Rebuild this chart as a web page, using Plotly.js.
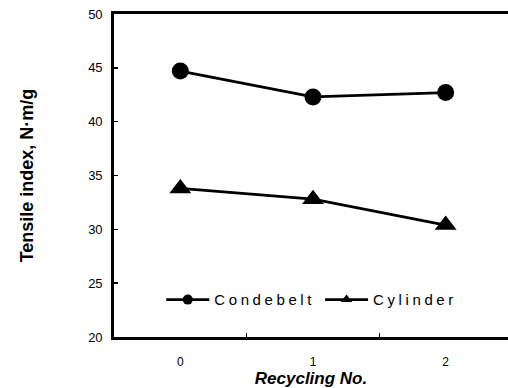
<!DOCTYPE html>
<html><head><meta charset="utf-8">
<script src="https://cdn.plot.ly/plotly-3.0.1.min.js"></script>
<style>body{margin:0;background:#fff}#c{width:508px;height:388px}.legendtext{letter-spacing:3.6px}</style>
</head><body><div id="c"></div>
<script>
var recycling = [0, 1, 2];
var xTickLabels = ['0', '1', '2'];
var yTickValues = [20, 25, 30, 35, 40, 45, 50];
var condebelt = [44.7, 42.3, 42.7];
var cylinder = [33.8, 32.8, 30.4];
var seriesNames = ['Condebelt', 'Cylinder'];

var line = {color: '#000', width: 2.8};
var traces = [
  {x: recycling, y: condebelt, mode: 'lines+markers', name: seriesNames[0], showlegend: false,
   line: line, marker: {symbol: 'circle', size: 17, color: '#000'}},
  {x: recycling, y: cylinder, mode: 'lines+markers', name: seriesNames[1], showlegend: false,
   line: line, marker: {symbol: 'triangle-up', size: 19, color: '#000'}},
  {x: [null], y: [null], mode: 'lines+markers', name: seriesNames[0],
   line: line, marker: {symbol: 'circle', size: 10, color: '#000'}},
  {x: [null], y: [null], mode: 'lines+markers', name: seriesNames[1],
   line: line, marker: {symbol: 'triangle-up', size: 10, color: '#000'}}
];
var layout = {
  width: 508, height: 388,
  margin: {l: 114, r: 0, t: 14, b: 51},
  paper_bgcolor: '#fff', plot_bgcolor: '#fff',
  font: {family: 'Liberation Sans, Arial, sans-serif', color: '#000'},
  showlegend: true,
  legend: {orientation: 'h', x: 0.12, y: 0.115, xanchor: 'left', yanchor: 'middle',
    font: {size: 15, color: '#000'}, bgcolor: 'rgba(0,0,0,0)', itemwidth: 43, tracegroupgap: 0},
  xaxis: {range: [-0.5, 2.47], tickvals: recycling, ticktext: xTickLabels, ticks: '',
    showline: true, linewidth: 2.8, linecolor: '#000', mirror: true, showgrid: false, zeroline: false,
    tickfont: {size: 12}, ticklabelstandoff: 12,
    minor: {tickvals: [0.5, 1.5], ticks: 'inside', ticklen: 4, tickwidth: 1.5, tickcolor: '#000', showgrid: false},
    title: {text: '<b><i>Recycling No.</i></b>', font: {size: 17}, standoff: 4}},
  yaxis: {range: [20, 50], tickvals: yTickValues, ticks: 'inside', ticklen: 4, tickwidth: 1.5,
    tickcolor: '#000', showline: true, linewidth: 2.8, linecolor: '#000', showgrid: false, zeroline: false,
    tickfont: {size: 13}, ticklabelstandoff: 6,
    title: {text: '<b>Tensile index, N·m/g</b>', font: {size: 18}, standoff: 50}}
};
Plotly.newPlot('c', traces, layout, {displayModeBar: false, staticPlot: true});
</script></body></html>
